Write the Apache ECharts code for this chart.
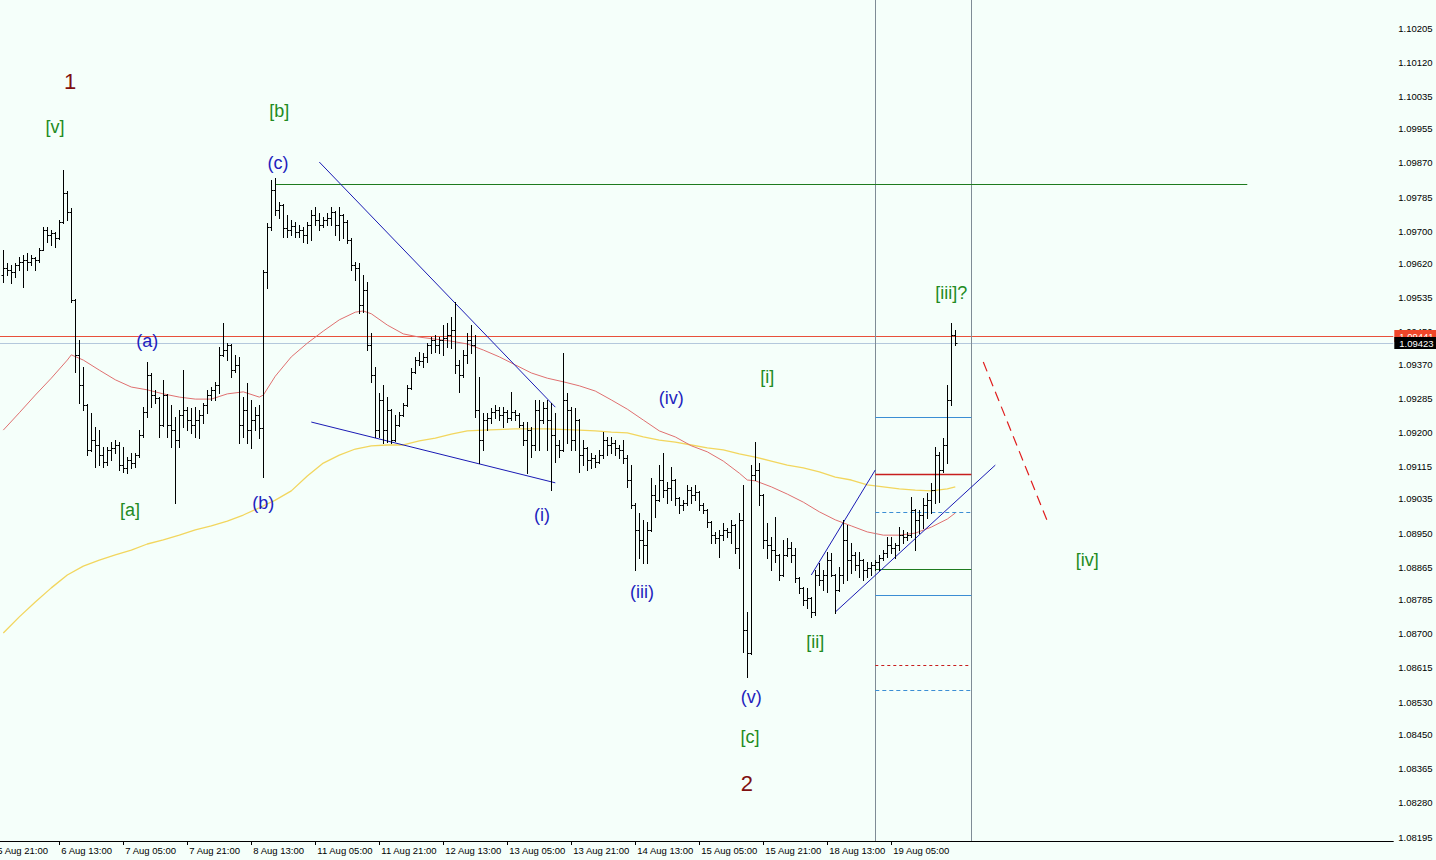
<!DOCTYPE html>
<html><head><meta charset="utf-8">
<script src="https://cdn.jsdelivr.net/npm/echarts@6/dist/echarts.min.js"></script>
<style>html,body{margin:0;padding:0;background:#F5FFFA;}#c{width:1436px;height:860px;}</style>
</head><body><div id="c"></div>
<script>
// ---------- data (EURUSD H1) ----------
const opens = [1.09591,1.09609,1.09604,1.09599,1.09616,1.09624,1.09629,1.09624,1.09634,1.09629,
1.09653,1.09703,1.09691,1.09696,1.09683,1.09723,1.09795,1.09748,1.09529,1.09393,
1.09318,1.09268,1.09157,1.09181,1.09169,1.09144,1.09127,1.09157,1.09162,1.09169,
1.09119,1.09112,1.09132,1.09124,1.09144,1.09194,1.09251,1.09343,1.09293,1.09286,
1.09219,1.09293,1.09219,1.09206,1.09181,1.09244,1.09256,1.09231,1.09219,1.09231,
1.09244,1.09268,1.09293,1.09306,1.09318,1.09393,1.09405,1.09417,1.09355,1.09368,
1.09219,1.09256,1.09206,1.09231,1.09244,1.09211,1.09599,1.09711,1.09803,1.09753,
1.09765,1.09708,1.09703,1.09713,1.09698,1.09703,1.09691,1.09716,1.09741,1.09728,
1.09716,1.09728,1.09733,1.09748,1.09716,1.09741,1.09723,1.09678,1.09616,1.09609,
1.09517,1.09554,1.09417,1.09343,1.09206,1.09281,1.09206,1.09256,1.09181,1.09219,
1.09244,1.09268,1.09311,1.09350,1.09380,1.09378,1.09388,1.09417,1.09430,1.09417,
1.09430,1.09435,1.09442,1.09455,1.09368,1.09343,1.09393,1.09430,1.09417,1.09256,
1.09181,1.09231,1.09236,1.09251,1.09256,1.09244,1.09251,1.09236,1.09251,1.09244,
1.09219,1.09181,1.09206,1.09169,1.09256,1.09231,1.09261,1.09231,1.09194,1.09169,
1.09157,1.09281,1.09256,1.09181,1.09231,1.09144,1.09162,1.09132,1.09137,1.09127,
1.09144,1.09181,1.09169,1.09174,1.09162,1.09157,1.09137,1.09082,1.09020,1.08958,
1.08933,1.08921,1.08958,1.09045,1.09032,1.09082,1.09057,1.09062,1.09082,1.09037,
1.09020,1.09025,1.09057,1.09045,1.09052,1.09020,1.09008,1.08978,1.08945,1.08938,
1.08945,1.08958,1.08953,1.08970,1.08913,1.08983,1.08709,1.08652,1.09094,1.09107,
1.09045,1.08933,1.08921,1.08908,1.08896,1.08846,1.08896,1.08913,1.08896,1.08839,
1.08814,1.08784,1.08789,1.08754,1.08846,1.08834,1.08846,1.08883,1.08846,1.08809,
1.08846,1.08933,1.08883,1.08896,1.08871,1.08883,1.08858,1.08863,1.08871,1.08878,
1.08888,1.08901,1.08921,1.08913,1.08921,1.08945,1.08940,1.08945,1.09008,1.08983,
1.08995,1.09020,1.09032,1.09057,1.09144,1.09107,1.09169,1.09281,1.09442];
const highs = [1.09653,1.09621,1.09616,1.09621,1.09636,1.09641,1.09646,1.09641,1.09636,1.09658,
1.09711,1.09711,1.09703,1.09698,1.09728,1.09852,1.09800,1.09758,1.09532,1.09430,
1.09363,1.09270,1.09249,1.09214,1.09206,1.09164,1.09164,1.09176,1.09181,1.09176,
1.09164,1.09139,1.09149,1.09149,1.09206,1.09263,1.09375,1.09348,1.09306,1.09288,
1.09331,1.09295,1.09268,1.09239,1.09256,1.09355,1.09263,1.09261,1.09263,1.09256,
1.09273,1.09306,1.09313,1.09326,1.09412,1.09472,1.09422,1.09420,1.09393,1.09388,
1.09288,1.09323,1.09281,1.09263,1.09268,1.09604,1.09721,1.09827,1.09832,1.09773,
1.09767,1.09741,1.09728,1.09723,1.09716,1.09711,1.09723,1.09753,1.09760,1.09745,
1.09736,1.09745,1.09760,1.09750,1.09760,1.09743,1.09728,1.09683,1.09624,1.09621,
1.09591,1.09574,1.09447,1.09363,1.09298,1.09318,1.09288,1.09258,1.09244,1.09251,
1.09273,1.09318,1.09360,1.09388,1.09400,1.09398,1.09422,1.09437,1.09442,1.09437,
1.09467,1.09472,1.09487,1.09524,1.09380,1.09405,1.09447,1.09467,1.09442,1.09338,
1.09249,1.09249,1.09261,1.09268,1.09263,1.09263,1.09256,1.09301,1.09256,1.09249,
1.09226,1.09226,1.09214,1.09281,1.09281,1.09276,1.09281,1.09273,1.09249,1.09181,
1.09398,1.09298,1.09263,1.09261,1.09233,1.09181,1.09164,1.09149,1.09144,1.09157,
1.09201,1.09189,1.09189,1.09181,1.09169,1.09181,1.09144,1.09119,1.09025,1.09000,
1.08983,1.08978,1.09087,1.09070,1.09119,1.09149,1.09077,1.09114,1.09084,1.09040,
1.09032,1.09070,1.09065,1.09070,1.09054,1.09025,1.09010,1.08980,1.08953,1.08958,
1.08975,1.08963,1.08983,1.08972,1.09000,1.09070,1.08754,1.09119,1.09176,1.09124,
1.09047,1.08975,1.08940,1.08990,1.08898,1.08933,1.08938,1.08928,1.08913,1.08842,
1.08816,1.08814,1.08791,1.08858,1.08876,1.08858,1.08903,1.08901,1.08848,1.08866,
1.08983,1.08970,1.08926,1.08903,1.08903,1.08885,1.08878,1.08878,1.08883,1.08896,
1.08908,1.08940,1.08940,1.08926,1.08965,1.08958,1.08953,1.09040,1.09010,1.09008,
1.09037,1.09050,1.09075,1.09164,1.09152,1.09186,1.09318,1.09472,1.09455];
const lows = [1.09574,1.09591,1.09572,1.09586,1.09604,1.09562,1.09604,1.09616,1.09604,1.09624,
1.09653,1.09673,1.09666,1.09661,1.09680,1.09721,1.09728,1.09524,1.09350,1.09273,
1.09256,1.09144,1.09155,1.09114,1.09119,1.09114,1.09119,1.09132,1.09149,1.09107,
1.09102,1.09099,1.09112,1.09114,1.09139,1.09189,1.09239,1.09263,1.09273,1.09189,
1.09215,1.09189,1.09164,1.09025,1.09164,1.09214,1.09206,1.09199,1.09189,1.09186,
1.09224,1.09249,1.09281,1.09281,1.09298,1.09390,1.09380,1.09338,1.09350,1.09174,
1.09189,1.09174,1.09162,1.09206,1.09186,1.09089,1.09559,1.09703,1.09741,1.09733,
1.09686,1.09686,1.09691,1.09686,1.09686,1.09673,1.09671,1.09678,1.09716,1.09703,
1.09711,1.09716,1.09716,1.09691,1.09678,1.09683,1.09671,1.09604,1.09579,1.09497,
1.09499,1.09405,1.09326,1.09189,1.09189,1.09174,1.09176,1.09174,1.09179,1.09217,
1.09242,1.09265,1.09308,1.09347,1.09368,1.09363,1.09375,1.09398,1.09400,1.09398,
1.09393,1.09412,1.09410,1.09348,1.09301,1.09338,1.09373,1.09398,1.09239,1.09124,
1.09157,1.09206,1.09224,1.09236,1.09231,1.09214,1.09226,1.09231,1.09231,1.09214,
1.09169,1.09099,1.09139,1.09157,1.09157,1.09224,1.09157,1.09057,1.09127,1.09139,
1.09155,1.09174,1.09157,1.09157,1.09102,1.09119,1.09107,1.09112,1.09114,1.09124,
1.09137,1.09144,1.09149,1.09144,1.09137,1.09124,1.09065,1.09013,1.08858,1.08888,
1.08876,1.08876,1.08955,1.08990,1.09030,1.09040,1.09025,1.09032,1.09020,1.09000,
1.09008,1.09020,1.09025,1.09032,1.09008,1.09000,1.08965,1.08926,1.08926,1.08891,
1.08933,1.08940,1.08926,1.08901,1.08863,1.08655,1.08593,1.08650,1.09082,1.09020,
1.08913,1.08888,1.08858,1.08878,1.08834,1.08844,1.08894,1.08878,1.08829,1.08801,
1.08772,1.08764,1.08742,1.08747,1.08821,1.08809,1.08804,1.08844,1.08752,1.08807,
1.08826,1.08834,1.08851,1.08858,1.08841,1.08834,1.08841,1.08846,1.08858,1.08858,
1.08883,1.08891,1.08901,1.08888,1.08908,1.08926,1.08933,1.08940,1.08908,1.08950,
1.08963,1.08988,1.09000,1.09025,1.09027,1.09102,1.09124,1.09268,1.09417];
const closes = [1.09609,1.09604,1.09599,1.09616,1.09624,1.09629,1.09624,1.09634,1.09629,1.09653,
1.09703,1.09691,1.09696,1.09683,1.09723,1.09795,1.09748,1.09529,1.09393,1.09318,
1.09268,1.09157,1.09181,1.09169,1.09144,1.09127,1.09157,1.09162,1.09169,1.09119,
1.09112,1.09132,1.09124,1.09144,1.09194,1.09251,1.09343,1.09293,1.09286,1.09219,
1.09293,1.09219,1.09206,1.09181,1.09244,1.09256,1.09231,1.09219,1.09231,1.09244,
1.09268,1.09293,1.09306,1.09318,1.09393,1.09405,1.09417,1.09355,1.09368,1.09219,
1.09256,1.09206,1.09231,1.09244,1.09211,1.09599,1.09711,1.09803,1.09753,1.09765,
1.09708,1.09703,1.09713,1.09698,1.09703,1.09691,1.09716,1.09741,1.09728,1.09716,
1.09728,1.09733,1.09748,1.09716,1.09741,1.09723,1.09678,1.09616,1.09609,1.09517,
1.09554,1.09417,1.09343,1.09206,1.09281,1.09206,1.09256,1.09181,1.09219,1.09244,
1.09268,1.09311,1.09350,1.09380,1.09378,1.09388,1.09417,1.09430,1.09417,1.09430,
1.09435,1.09442,1.09455,1.09368,1.09343,1.09393,1.09430,1.09417,1.09256,1.09181,
1.09231,1.09236,1.09251,1.09256,1.09244,1.09251,1.09236,1.09251,1.09244,1.09219,
1.09181,1.09206,1.09169,1.09256,1.09231,1.09261,1.09231,1.09194,1.09169,1.09157,
1.09281,1.09256,1.09181,1.09231,1.09144,1.09162,1.09132,1.09137,1.09127,1.09144,
1.09181,1.09169,1.09174,1.09162,1.09157,1.09137,1.09082,1.09020,1.08958,1.08933,
1.08921,1.08958,1.09045,1.09032,1.09082,1.09057,1.09062,1.09082,1.09037,1.09020,
1.09025,1.09057,1.09045,1.09052,1.09020,1.09008,1.08978,1.08945,1.08938,1.08945,
1.08958,1.08953,1.08970,1.08913,1.08983,1.08709,1.08652,1.09094,1.09107,1.09045,
1.08933,1.08921,1.08908,1.08896,1.08846,1.08896,1.08913,1.08896,1.08839,1.08814,
1.08784,1.08789,1.08754,1.08846,1.08834,1.08846,1.08883,1.08846,1.08809,1.08846,
1.08933,1.08883,1.08896,1.08871,1.08883,1.08858,1.08863,1.08871,1.08878,1.08888,
1.08901,1.08921,1.08913,1.08921,1.08945,1.08940,1.08945,1.09008,1.08983,1.08995,
1.09020,1.09032,1.09057,1.09144,1.09107,1.09169,1.09281,1.09442,1.09423];

// moving averages (bar index, price)
const maRedIdx = [0,4,8,12,16,17,20,24,28,32,36,40,44,48,52,56,60,64,65,68,72,76,80,84,88,90,92,96,100,104,108,112,116,120,124,128,132,136,140,144,148,152,156,160,164,168,172,176,180,184,186,188,192,196,200,204,208,212,216,220,224,228,232,236,238];
const maRedVal = [1.09206,1.09249,1.09293,1.09335,1.09380,1.09393,1.09380,1.09355,1.09331,1.09313,1.09306,1.09296,1.09288,1.09283,1.09283,1.09296,1.09301,1.09288,1.09293,1.09340,1.09388,1.09422,1.09452,1.09480,1.09499,1.09502,1.09495,1.09467,1.09445,1.09437,1.09432,1.09427,1.09420,1.09405,1.09388,1.09368,1.09348,1.09335,1.09326,1.09316,1.09303,1.09281,1.09258,1.09231,1.09204,1.09189,1.09167,1.09152,1.09129,1.09099,1.09082,1.09080,1.09065,1.09047,1.09027,1.09003,1.08983,1.08968,1.08953,1.08945,1.08945,1.08950,1.08965,1.08985,1.09000];
const maYelIdx = [0,4,8,12,16,20,24,28,32,36,40,44,48,52,56,60,64,68,72,76,80,84,88,92,96,100,104,108,112,116,120,128,136,144,148,152,156,160,164,168,172,176,180,184,188,192,196,200,204,208,212,216,220,224,228,232,236,238];
const maYelVal = [1.08702,1.08742,1.08779,1.08814,1.08846,1.08868,1.08883,1.08896,1.08908,1.08923,1.08933,1.08945,1.08958,1.08968,1.08980,1.08995,1.09013,1.09032,1.09055,1.09092,1.09124,1.09144,1.09159,1.09167,1.09169,1.09169,1.09179,1.09186,1.09196,1.09204,1.09206,1.09209,1.09209,1.09206,1.09204,1.09201,1.09199,1.09189,1.09181,1.09176,1.09169,1.09162,1.09157,1.09147,1.09139,1.09129,1.09119,1.09112,1.09102,1.09089,1.09082,1.09070,1.09065,1.09060,1.09057,1.09055,1.09060,1.09065];

// drawn objects: [barIndex1, price1, barIndex2, price2]
const trendLines = [[79,1.09872,138,1.09263],[77,1.09226,138,1.09075],[202,1.08846,218,1.09107],[208,1.08754,248,1.09119]];
const resistance = [[68,1.09818,311,1.09818]];
const projection = [[245,1.09375,261,1.08980]];
const zoneBars = [218,242];
const levelsBlue = [1.09239,1.08796];
const levelsBlueDash = [1.09003,1.08560];
const levelsRed = [1.09097];
const levelsRedDash = [1.08622];
const levelsGreen = [1.08861];
const askPrice = 1.09441, bidPrice = 1.09423;

// wave labels
const greenText = ['[v]','[b]','[a]','[i]','[ii]','[c]','[iii]?','[iv]'];
const greenX = [12.9,69,31.7,191,203,186.7,237,271];
const greenY = [1.09959,1.09999,1.09008,1.09338,1.08680,1.08444,1.09547,1.08883];
const blueText = ['(c)','(a)','(b)','(i)','(iii)','(iv)','(v)'];
const blueX = [68.7,36,65,134.7,159.7,167,187];
const blueY = [1.09870,1.09427,1.09025,1.08995,1.08804,1.09286,1.08543];
const degText = ['1','2'];
const degX = [16.7,185.9];
const degY = [1.10071,1.08329];

// axis
const yTickValues = [1.10205,1.10120,1.10035,1.09955,1.09870,1.09785,1.09700,1.09620,1.09535,1.09450,1.09370,1.09285,1.09200,1.09115,1.09035,1.08950,1.08865,1.08785,1.08700,1.08615,1.08530,1.08450,1.08365,1.08280,1.08195];
const Y_MIN = 1.081851, Y_MAX = 1.102746;
const LEAD = 2, SLOTS = 350, LAST_LABEL = 224;
const MONTHS = ['Jan','Feb','Mar','Apr','May','Jun','Jul','Aug','Sep','Oct','Nov','Dec'];
const categories = [];
(function(){ let t = Date.UTC(2025,7,5,21);
  while (categories.length < SLOTS) { const d = new Date(t); const wd = d.getUTCDay();
    if (wd !== 0 && wd !== 6) categories.push(d.getUTCDate()+' '+MONTHS[d.getUTCMonth()]+' '+String(d.getUTCHours()).padStart(2,'0')+':00');
    t += 3600000; } })();

// ---------- chart ----------
const FONT = 'Liberation Sans, Arial, sans-serif';
const bars = closes.map((c,j)=>[j+LEAD, opens[j], highs[j], lows[j], c]);
const showTick = (i)=> i%16===0 && i<=LAST_LABEL;

function segSeries(segs, color, dash, width, z){
  return {type:'custom', xAxisIndex:1, yAxisIndex:0, silent:true, animation:false, z:z||3, clip:true,
    encode:{x:[0,2], y:[1,3]},
    data: segs.map(s=>[s[0]+LEAD, s[1], s[2]+LEAD, s[3]]),
    renderItem:(p,api)=>{
      const a = api.coord([api.value(0),api.value(1)]), b = api.coord([api.value(2),api.value(3)]);
      let x1=a[0],y1=a[1],x2=b[0],y2=b[1];
      if (Math.abs(y1-y2)<0.01){ y1=y2=Math.round(y1)+0.5; }
      if (Math.abs(x1-x2)<0.01){ x1=x2=Math.round(x1)+0.5; }
      return {type:'line', shape:{x1,y1,x2,y2}, style:{stroke:color, lineWidth:width||1, lineDash:dash||null}};
    }};
}
function levelSegs(levels){ return levels.map(v=>[zoneBars[0], v, zoneBars[1], v]); }
function fullWidth(v){ return [[-LEAD-0.5, v, SLOTS-LEAD-0.5, v]]; }
function textSeries(texts, xs, ys, color, size){
  return {type:'custom', xAxisIndex:1, yAxisIndex:0, silent:true, animation:false, z:6, clip:false,
    encode:{x:0, y:1},
    data: xs.map((x,i)=>[x+LEAD, ys[i]]),
    renderItem:(p,api)=>{
      const c = api.coord([api.value(0),api.value(1)]);
      return {type:'text', x:c[0], y:c[1], style:{text:texts[p.dataIndex], fill:color, fontSize:size, fontFamily:FONT, align:'center', verticalAlign:'middle'}};
    }};
}
const tagColors = ['#F0462A','#000000'];
const priceTags = {type:'custom', xAxisIndex:1, yAxisIndex:0, silent:true, animation:false, z:8, clip:false,
  encode:{x:0, y:1}, data:[[LEAD, askPrice],[LEAD, bidPrice]],
  renderItem:(p,api)=>{
    const v = api.value(1); const y = Math.round(api.coord([api.value(0), v])[1]);
    const x0 = p.coordSys.x + p.coordSys.width + 1;
    return {type:'group', children:[
      {type:'rect', shape:{x:x0, y:y-6, width:48, height:12}, style:{fill:tagColors[p.dataIndex]}},
      {type:'text', x:x0+5, y:y+0.5, style:{text:v.toFixed(5), fill:'#fff', fontSize:9.5, fontFamily:FONT, align:'left', verticalAlign:'middle'}}
    ]};
  }};

const chart = echarts.init(document.getElementById('c'), null, {renderer:'svg'});
chart.setOption({
  backgroundColor:'#F5FFFA',
  animation:false,
  grid:{left:-6.7, right:42.7, top:0, bottom:19, containLabel:false, outerBoundsMode:'none'},
  xAxis:[{
    type:'category', data:categories, boundaryGap:true,
    axisLine:{show:true, lineStyle:{color:'#000', width:1}},
    axisTick:{show:true, alignWithLabel:true, length:4, interval:showTick, lineStyle:{color:'#000'}},
    axisLabel:{interval:showTick, align:'left', color:'#000', fontSize:9.5, fontFamily:FONT, margin:4, padding:[0,0,0,2]},
    splitLine:{show:false}
  },{
    type:'value', min:-0.5, max:SLOTS-0.5, show:false, splitLine:{show:false}
  }],
  yAxis:{
    type:'value', position:'right', min:Y_MIN, max:Y_MAX, scale:true,
    splitLine:{show:false},
    axisLine:{show:true, lineStyle:{color:'#000', width:1}},
    axisTick:{show:true, length:4, customValues:yTickValues, lineStyle:{color:'#000'}},
    axisLabel:{customValues:yTickValues, formatter:(v)=>v.toFixed(5), color:'#000', fontSize:9.5, fontFamily:FONT, margin:5}
  },
  series:[
    {type:'line', xAxisIndex:1, yAxisIndex:0, name:'MA slow', data:maYelIdx.map((j,i)=>[j+LEAD, maYelVal[i]]),
      symbol:'none', lineStyle:{color:'#F2D65E', width:1.3}, z:2, silent:true},
    {type:'line', xAxisIndex:1, yAxisIndex:0, name:'MA fast', data:maRedIdx.map((j,i)=>[j+LEAD, maRedVal[i]]),
      symbol:'none', lineStyle:{color:'#E07070', width:1}, z:2, silent:true},
    segSeries(fullWidth(bidPrice), '#B4C8DC', null, 1, 2),
    segSeries(fullWidth(askPrice), '#E8503A', null, 1, 2),
    segSeries(zoneBars.map(k=>[k, Y_MIN, k, Y_MAX]), '#7F8C96', null, 1),
    segSeries(resistance, '#1E7B1E', null, 1),
    segSeries(levelSegs(levelsBlue), '#3B8ED4', null, 1),
    segSeries(levelSegs(levelsBlueDash), '#3B8ED4', [4,3], 1),
    segSeries(levelSegs(levelsRed), '#C81E1E', null, 1.3),
    segSeries(levelSegs(levelsRedDash), '#C81E1E', [3,3], 1),
    segSeries(levelSegs(levelsGreen), '#1E7B1E', null, 1),
    segSeries(trendLines, '#1A1AB4', null, 1),
    segSeries(projection, '#E01E1E', [10,6], 1.2),
    {type:'custom', name:'EURUSD,H1', xAxisIndex:0, yAxisIndex:0, silent:true, animation:false, z:4, clip:true,
      encode:{x:0, y:[1,2,3,4]}, data:bars,
      renderItem:(p,api)=>{
        const k = api.value(0);
        const ph = api.coord([k, api.value(2)]), pl = api.coord([k, api.value(3)]);
        const po = api.coord([k, api.value(1)]), pc = api.coord([k, api.value(4)]);
        const x = Math.round(ph[0]) + 0.5;
        const yo = Math.round(po[1]) + 0.5, yc = Math.round(pc[1]) + 0.5;
        const st = {stroke:'#000', lineWidth:1};
        return {type:'group', children:[
          {type:'line', shape:{x1:x, y1:Math.round(ph[1]), x2:x, y2:Math.round(pl[1])+1}, style:st},
          {type:'line', shape:{x1:x-2, y1:yo, x2:x, y2:yo}, style:st},
          {type:'line', shape:{x1:x, y1:yc, x2:x+2, y2:yc}, style:st}
        ]};
      }},
    textSeries(greenText, greenX, greenY, '#228B22', 18),
    textSeries(blueText, blueX, blueY, '#1E1EBE', 18),
    textSeries(degText, degX, degY, '#7F1010', 22),
    priceTags
  ]
});
</script>
</body></html>
